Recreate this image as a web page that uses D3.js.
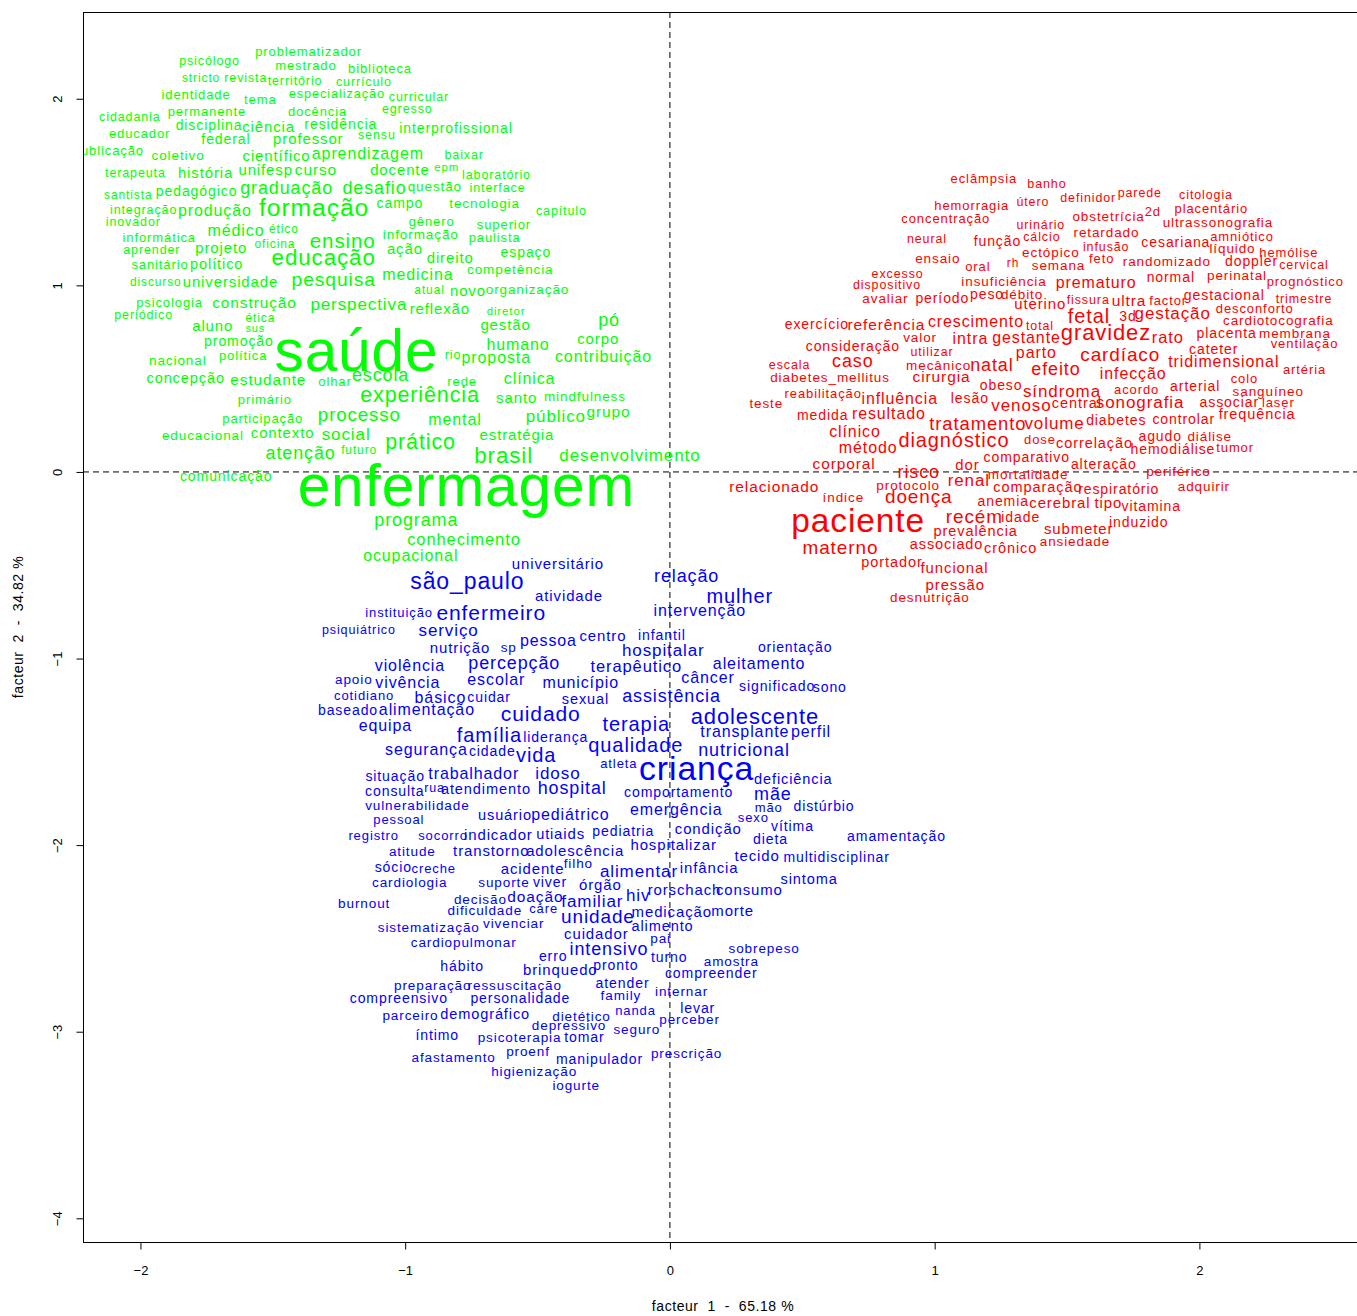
<!DOCTYPE html>
<html>
<head>
<meta charset="utf-8">
<script src="https://cdn.jsdelivr.net/npm/d3@7"></script>
<style>
  body { margin: 0; background: #fff; }
  text { font-family: "Liberation Sans", Arial, Helvetica, sans-serif; }
</style>
</head>
<body>
<svg id="chart" width="1357" height="1316"></svg>
<script>
// Correspondence analysis word map: each word is placed at its coordinates
// on the first two factors; cex is the relative label size (word weight).
// Columns: [word, facteur 1, facteur 2, cex]

const class1Words = [
  ["problematizador", -1.365, 2.252, 1.0], ["psicólogo", -1.739, 2.199, 0.96], ["mestrado", -1.375, 2.177, 1.0],
  ["biblioteca", -1.095, 2.160, 1.0], ["stricto", -1.771, 2.110, 0.92], ["revista", -1.602, 2.110, 0.96],
  ["território", -1.416, 2.095, 0.96], ["currículo", -1.156, 2.088, 0.96], ["identidade", -1.790, 2.017, 1.0],
  ["tema", -1.547, 1.994, 1.0], ["especialização", -1.258, 2.024, 0.98], ["curricular", -0.948, 2.008, 0.96],
  ["egresso", -0.992, 1.945, 0.96], ["cidadania", -2.040, 1.901, 0.96], ["permanente", -1.749, 1.931, 1.0],
  ["docência", -1.331, 1.931, 1.0], ["interprofissional", -0.808, 1.837, 1.08], ["disciplina", -1.741, 1.854, 1.08],
  ["ciência", -1.516, 1.847, 1.15], ["residência", -1.243, 1.860, 1.08], ["sensu", -1.107, 1.802, 0.96],
  ["educador", -2.003, 1.810, 1.0], ["federal", -1.677, 1.779, 1.08], ["professor", -1.366, 1.783, 1.15],
  ["publicação", -2.121, 1.722, 1.0], ["coletivo", -1.858, 1.693, 1.04], ["científico", -1.486, 1.693, 1.15],
  ["aprendizagem", -1.141, 1.703, 1.23], ["baixar", -0.777, 1.699, 0.96], ["terapeuta", -2.019, 1.601, 0.96],
  ["história", -1.754, 1.597, 1.15], ["unifesp", -1.527, 1.613, 1.15], ["curso", -1.337, 1.615, 1.19],
  ["docente", -1.020, 1.618, 1.15], ["epm", -0.843, 1.631, 0.88], ["laboratório", -0.655, 1.588, 0.96],
  ["santista", -2.046, 1.484, 0.92], ["pedagógico", -1.788, 1.499, 1.08], ["graduação", -1.448, 1.520, 1.38],
  ["desafio", -1.116, 1.520, 1.38], ["questão", -0.888, 1.529, 1.04], ["interface", -0.651, 1.520, 0.96],
  ["integração", -1.988, 1.404, 0.96], ["produção", -1.719, 1.395, 1.23], ["formação", -1.344, 1.413, 1.9],
  ["campo", -1.020, 1.435, 1.08], ["tecnologia", -0.700, 1.435, 1.04], ["capítulo", -0.410, 1.399, 0.96],
  ["inovador", -2.027, 1.336, 0.96], ["gênero", -0.900, 1.341, 1.0], ["superior", -0.627, 1.324, 1.0],
  ["médico", -1.639, 1.288, 1.23], ["ético", -1.458, 1.301, 0.92], ["informática", -1.929, 1.252, 1.0],
  ["informação", -0.941, 1.270, 1.04], ["paulista", -0.662, 1.252, 1.0], ["ensino", -1.236, 1.234, 1.58],
  ["aprender", -1.957, 1.190, 0.96], ["projeto", -1.695, 1.195, 1.15], ["oficina", -1.492, 1.222, 0.92],
  ["ação", -1.001, 1.190, 1.15], ["direito", -0.830, 1.145, 1.15], ["espaço", -0.544, 1.177, 1.08],
  ["educação", -1.308, 1.145, 1.72], ["sanitário", -1.926, 1.109, 1.0], ["político", -1.712, 1.109, 1.12],
  ["discurso", -1.942, 1.017, 0.92], ["universidade", -1.660, 1.017, 1.15], ["pesquisa", -1.270, 1.025, 1.48],
  ["medicina", -0.952, 1.052, 1.23], ["competência", -0.603, 1.083, 1.04], ["atual", -0.908, 0.972, 0.92],
  ["novo", -0.763, 0.966, 1.15], ["organização", -0.538, 0.975, 1.04], ["psicologia", -1.890, 0.907, 1.0],
  ["construção", -1.569, 0.904, 1.19], ["perspectiva", -1.175, 0.895, 1.31], ["periódico", -1.988, 0.838, 0.96],
  ["ética", -1.547, 0.824, 0.92], ["sus", -1.566, 0.770, 0.85], ["aluno", -1.727, 0.779, 1.15],
  ["reflexão", -0.869, 0.868, 1.15], ["diretor", -0.619, 0.859, 0.88], ["gestão", -0.621, 0.784, 1.15],
  ["pó", -0.230, 0.809, 1.38], ["promoção", -1.628, 0.698, 1.08], ["saúde", -1.184, 0.635, 4.5],
  ["humano", -0.574, 0.681, 1.23], ["corpo", -0.271, 0.711, 1.15], ["política", -1.612, 0.622, 1.0],
  ["nacional", -1.859, 0.596, 1.04], ["rio", -0.819, 0.623, 0.96], ["proposta", -0.656, 0.609, 1.23],
  ["contribuição", -0.251, 0.613, 1.23], ["concepção", -1.829, 0.498, 1.12], ["estudante", -1.517, 0.489, 1.19],
  ["olhar", -1.265, 0.484, 1.0], ["escola", -1.093, 0.514, 1.38], ["rede", -0.785, 0.484, 1.0],
  ["clínica", -0.530, 0.497, 1.23], ["experiência", -0.944, 0.407, 1.65], ["primário", -1.530, 0.386, 1.0],
  ["santo", -0.579, 0.395, 1.15], ["mindfulness", -0.321, 0.404, 1.04], ["participação", -1.538, 0.282, 1.0],
  ["processo", -1.173, 0.302, 1.44], ["mental", -0.812, 0.275, 1.23], ["público", -0.431, 0.296, 1.31],
  ["grupo", -0.232, 0.318, 1.19], ["educacional", -1.764, 0.193, 1.04], ["contexto", -1.463, 0.204, 1.15],
  ["social", -1.223, 0.198, 1.31], ["estratégia", -0.578, 0.195, 1.15], ["prático", -0.942, 0.157, 1.65],
  ["atenção", -1.395, 0.100, 1.38], ["futuro", -1.174, 0.118, 0.92], ["brasil", -0.628, 0.082, 1.72],
  ["desenvolvimento", -0.151, 0.086, 1.31], ["comunicação", -1.676, -0.028, 1.08], ["enfermagem", -0.769, -0.086, 4.5],
  ["programa", -0.958, -0.263, 1.38], ["conhecimento", -0.778, -0.364, 1.27], ["ocupacional", -0.979, -0.450, 1.23]
];

const class2Words = [
  ["eclâmpsia", 1.186, 1.570, 1.0], ["banho", 1.424, 1.543, 0.96], ["hemorragia", 1.140, 1.425, 1.0],
  ["útero", 1.371, 1.447, 0.96], ["definidor", 1.580, 1.467, 0.96], ["parede", 1.775, 1.494, 0.96],
  ["citologia", 2.025, 1.484, 0.96], ["concentração", 1.042, 1.354, 1.0], ["urinário", 1.401, 1.324, 0.96],
  ["obstetrícia", 1.657, 1.368, 1.04], ["2d", 1.824, 1.390, 1.0], ["placentário", 2.045, 1.408, 1.0],
  ["ultrassonografia", 2.070, 1.336, 1.04], ["neural", 0.971, 1.249, 0.96], ["função", 1.237, 1.234, 1.08],
  ["cálcio", 1.405, 1.259, 0.96], ["retardado", 1.649, 1.279, 1.04], ["amniótico", 2.161, 1.256, 1.0],
  ["infusão", 1.648, 1.204, 0.96], ["cesariana", 1.911, 1.226, 1.08], ["líquido", 2.125, 1.195, 1.04],
  ["hemólise", 2.338, 1.175, 1.0], ["ectópico", 1.439, 1.175, 1.04], ["ensaio", 1.012, 1.140, 1.04],
  ["oral", 1.163, 1.097, 1.0], ["rh", 1.296, 1.115, 0.92], ["semana", 1.468, 1.104, 1.04],
  ["feto", 1.631, 1.140, 1.0], ["randomizado", 1.877, 1.127, 1.04], ["doppler", 2.197, 1.127, 1.08],
  ["cervical", 2.395, 1.106, 0.96], ["excesso", 0.860, 1.061, 0.96], ["dispositivo", 0.820, 0.998, 0.96],
  ["insuficiência", 1.262, 1.020, 1.04], ["prematuro", 1.610, 1.014, 1.23], ["normal", 1.892, 1.038, 1.08],
  ["perinatal", 2.142, 1.050, 1.04], ["prognóstico", 2.400, 1.017, 1.0], ["avaliar", 0.814, 0.926, 1.04],
  ["período", 1.029, 0.926, 1.08], ["peso", 1.198, 0.949, 1.08], ["débito", 1.330, 0.949, 1.04],
  ["uterino", 1.399, 0.895, 1.15], ["fissura", 1.580, 0.922, 0.96], ["ultra", 1.734, 0.916, 1.19],
  ["factor", 1.882, 0.913, 1.0], ["gestacional", 2.094, 0.943, 1.08], ["trimestre", 2.395, 0.927, 0.96],
  ["exercício", 0.555, 0.788, 1.08], ["referência", 0.818, 0.788, 1.19], ["crescimento", 1.156, 0.805, 1.23],
  ["total", 1.398, 0.779, 0.96], ["fetal", 1.583, 0.832, 1.54], ["3d", 1.730, 0.832, 1.08],
  ["gestação", 1.899, 0.845, 1.31], ["desconforto", 2.209, 0.872, 1.0], ["cardiotocografia", 2.298, 0.811, 1.04],
  ["consideração", 0.691, 0.671, 1.08], ["valor", 0.945, 0.717, 1.04], ["intra", 1.135, 0.711, 1.23],
  ["gestante", 1.347, 0.717, 1.23], ["gravidez", 1.647, 0.743, 1.69], ["rato", 1.881, 0.720, 1.27],
  ["placenta", 2.103, 0.740, 1.08], ["membrana", 2.361, 0.740, 1.04], ["utilizar", 0.990, 0.639, 0.96],
  ["parto", 1.384, 0.638, 1.23], ["cardíaco", 1.701, 0.627, 1.46], ["cateter", 2.054, 0.654, 1.08],
  ["ventilação", 2.397, 0.686, 1.0], ["escala", 0.452, 0.570, 0.96], ["caso", 0.691, 0.591, 1.38],
  ["mecânico", 1.015, 0.568, 1.04], ["natal", 1.216, 0.568, 1.38], ["efeito", 1.458, 0.547, 1.38],
  ["tridimensional", 2.092, 0.586, 1.23], ["artéria", 2.397, 0.547, 1.0], ["diabetes_mellitus", 0.605, 0.502, 1.04],
  ["cirurgia", 1.026, 0.507, 1.19], ["infecção", 1.750, 0.525, 1.23], ["colo", 2.170, 0.497, 1.0],
  ["obeso", 1.251, 0.461, 1.08], ["síndroma", 1.481, 0.430, 1.31], ["acordo", 1.763, 0.439, 1.0],
  ["arterial", 1.984, 0.454, 1.08], ["sanguíneo", 2.260, 0.430, 1.04], ["reabilitação", 0.579, 0.418, 1.0],
  ["teste", 0.364, 0.364, 1.04], ["influência", 0.868, 0.390, 1.23], ["lesão", 1.133, 0.391, 1.08],
  ["venoso", 1.328, 0.356, 1.31], ["central", 1.537, 0.364, 1.12], ["sonografia", 1.776, 0.371, 1.31],
  ["associar", 2.113, 0.368, 1.08], ["laser", 2.298, 0.368, 1.0], ["medida", 0.577, 0.302, 1.08],
  ["resultado", 0.827, 0.309, 1.23], ["tratamento", 1.163, 0.252, 1.42], ["volume", 1.453, 0.257, 1.31],
  ["diabetes", 1.686, 0.273, 1.08], ["controlar", 1.941, 0.279, 1.08], ["frequência", 2.218, 0.305, 1.12],
  ["clínico", 0.699, 0.211, 1.23], ["diagnóstico", 1.073, 0.168, 1.54], ["dose", 1.398, 0.171, 1.0],
  ["correlação", 1.604, 0.154, 1.12], ["agudo", 1.852, 0.189, 1.08], ["diálise", 2.039, 0.186, 1.04],
  ["hemodiálise", 1.900, 0.118, 1.08], ["tumor", 2.135, 0.127, 1.0], ["método", 0.749, 0.127, 1.23],
  ["comparativo", 1.348, 0.077, 1.08], ["alteração", 1.639, 0.038, 1.08], ["corporal", 0.658, 0.038, 1.19],
  ["risco", 0.940, -0.004, 1.38], ["dor", 1.124, 0.032, 1.15], ["mortalidade", 1.353, -0.016, 1.04],
  ["periférico", 1.921, 0.002, 1.04], ["relacionado", 0.394, -0.082, 1.19], ["protocolo", 0.900, -0.075, 1.04],
  ["renal", 1.129, -0.047, 1.31], ["comparação", 1.390, -0.082, 1.12], ["respiratório", 1.695, -0.093, 1.08],
  ["adquirir", 2.017, -0.082, 1.04], ["índice", 0.655, -0.141, 1.04], ["doença", 0.940, -0.136, 1.46],
  ["anemia", 1.259, -0.159, 1.08], ["cerebral", 1.473, -0.171, 1.15], ["tipo", 1.656, -0.171, 1.15],
  ["vitamina", 1.818, -0.186, 1.08], ["paciente", 0.711, -0.266, 2.58], ["recém", 1.150, -0.245, 1.46],
  ["idade", 1.325, -0.248, 1.08], ["prevalência", 1.155, -0.320, 1.12], ["materno", 0.644, -0.409, 1.46],
  ["associado", 1.045, -0.391, 1.12], ["crônico", 1.287, -0.409, 1.12], ["submeter", 1.544, -0.307, 1.15],
  ["induzido", 1.771, -0.272, 1.08], ["ansiedade", 1.530, -0.377, 1.04], ["portador", 0.839, -0.486, 1.12],
  ["funcional", 1.075, -0.516, 1.15], ["pressão", 1.078, -0.606, 1.15], ["desnutrição", 0.982, -0.677, 1.04]
];

const class3Words = [
  ["universitário", -0.423, -0.498, 1.15], ["são_paulo", -0.765, -0.588, 1.77], ["atividade", -0.381, -0.668, 1.15],
  ["instituição", -1.023, -0.754, 1.0], ["enfermeiro", -0.675, -0.757, 1.62], ["psiquiátrico", -1.175, -0.847, 0.96],
  ["serviço", -0.836, -0.850, 1.31], ["nutrição", -0.793, -0.945, 1.15], ["sp", -0.609, -0.945, 1.04],
  ["pessoa", -0.459, -0.909, 1.23], ["centro", -0.253, -0.883, 1.15], ["violência", -0.982, -1.043, 1.23],
  ["percepção", -0.588, -1.025, 1.38], ["apoio", -1.194, -1.115, 1.04], ["vivência", -0.990, -1.132, 1.23],
  ["escolar", -0.656, -1.115, 1.23], ["município", -0.337, -1.132, 1.23], ["cotidiano", -1.155, -1.204, 1.0],
  ["básico", -0.867, -1.210, 1.23], ["cuidar", -0.683, -1.210, 1.08], ["sexual", -0.319, -1.218, 1.12],
  ["baseado", -1.216, -1.279, 1.08], ["alimentação", -0.918, -1.275, 1.23], ["cuidado", -0.488, -1.302, 1.62],
  ["equipa", -1.075, -1.365, 1.23], ["família", -0.682, -1.413, 1.54], ["liderança", -0.431, -1.424, 1.08],
  ["segurança", -0.920, -1.490, 1.23], ["cidade", -0.671, -1.499, 1.08], ["vida", -0.505, -1.522, 1.54],
  ["situação", -1.038, -1.633, 1.08], ["trabalhador", -0.741, -1.618, 1.23], ["idoso", -0.423, -1.618, 1.31],
  ["consulta", -1.039, -1.713, 1.08], ["rua", -0.889, -1.695, 0.96], ["atendimento", -0.695, -1.704, 1.12],
  ["hospital", -0.369, -1.695, 1.38], ["vulnerabilidade", -0.954, -1.790, 1.04], ["pessoal", -1.024, -1.865, 1.0],
  ["usuário", -0.623, -1.843, 1.12], ["pediátrico", -0.376, -1.838, 1.23], ["relação", 0.063, -0.561, 1.38],
  ["mulher", 0.264, -0.668, 1.54], ["intervenção", 0.113, -0.749, 1.23], ["infantil", -0.030, -0.879, 1.08],
  ["hospitalar", -0.025, -0.958, 1.31], ["orientação", 0.473, -0.942, 1.08], ["terapêutico", -0.127, -1.043, 1.27],
  ["aleitamento", 0.337, -1.029, 1.23], ["câncer", 0.144, -1.106, 1.23], ["significado", 0.405, -1.151, 1.08],
  ["sono", 0.604, -1.159, 1.08], ["assistência", 0.006, -1.204, 1.38], ["adolescente", 0.321, -1.315, 1.69],
  ["terapia", -0.127, -1.356, 1.54], ["transplante", 0.283, -1.397, 1.23], ["perfil", 0.533, -1.397, 1.23],
  ["qualidade", -0.129, -1.468, 1.54], ["nutricional", 0.280, -1.495, 1.38], ["atleta", -0.193, -1.566, 1.0],
  ["criança", 0.101, -1.597, 2.6], ["deficiência", 0.466, -1.647, 1.12], ["comportamento", 0.033, -1.722, 1.08],
  ["mãe", 0.389, -1.731, 1.38], ["emergência", 0.024, -1.811, 1.23], ["mão", 0.373, -1.799, 1.0],
  ["distúrbio", 0.582, -1.794, 1.08], ["sexo", 0.315, -1.856, 1.0], ["condição", 0.145, -1.919, 1.15],
  ["vítima", 0.463, -1.901, 1.08], ["dieta", 0.380, -1.972, 1.08], ["amamentação", 0.856, -1.958, 1.08],
  ["pediatria", -0.176, -1.928, 1.08], ["hospitalizar", 0.014, -2.004, 1.15], ["tecido", 0.329, -2.062, 1.15],
  ["multidisciplinar", 0.630, -2.070, 1.08], ["alimentar", -0.117, -2.145, 1.31], ["infância", 0.148, -2.124, 1.15],
  ["sintoma", 0.526, -2.186, 1.12], ["hiv", -0.120, -2.272, 1.31], ["rorschach", 0.055, -2.245, 1.15],
  ["consumo", 0.300, -2.245, 1.15], ["medicação", 0.007, -2.362, 1.15], ["morte", 0.237, -2.356, 1.15],
  ["alimento", -0.028, -2.437, 1.12], ["pai", -0.035, -2.504, 1.04], ["sobrepeso", 0.356, -2.556, 1.04],
  ["turno", -0.003, -2.606, 1.08], ["amostra", 0.232, -2.624, 1.04], ["compreender", 0.156, -2.690, 1.08],
  ["internar", 0.044, -2.788, 1.04], ["levar", 0.105, -2.878, 1.08], ["perceber", 0.074, -2.937, 1.04],
  ["prescrição", 0.063, -3.119, 1.04], ["registro", -1.119, -1.949, 1.0], ["socorro", -0.857, -1.949, 1.0],
  ["indicador", -0.648, -1.949, 1.15], ["uti", -0.471, -1.945, 1.12], ["aids", -0.379, -1.945, 1.15],
  ["atitude", -0.973, -2.035, 1.04], ["transtorno", -0.675, -2.035, 1.15], ["adolescência", -0.358, -2.035, 1.15],
  ["sócio", -1.045, -2.124, 1.08], ["creche", -0.892, -2.129, 1.0], ["acidente", -0.519, -2.133, 1.15],
  ["filho", -0.346, -2.102, 1.04], ["cardiologia", -0.983, -2.204, 1.04], ["suporte", -0.627, -2.204, 1.04],
  ["viver", -0.453, -2.201, 1.08], ["órgão", -0.263, -2.219, 1.15], ["burnout", -1.155, -2.315, 1.04],
  ["decisão", -0.716, -2.294, 1.04], ["doação", -0.508, -2.279, 1.19], ["familiar", -0.293, -2.303, 1.31],
  ["dificuldade", -0.699, -2.351, 1.04], ["care", -0.477, -2.344, 1.0], ["unidade", -0.272, -2.386, 1.46],
  ["sistematização", -0.911, -2.445, 1.04], ["vivenciar", -0.590, -2.422, 1.04], ["cuidador", -0.278, -2.481, 1.15],
  ["cardiopulmonar", -0.779, -2.526, 1.04], ["intensivo", -0.230, -2.558, 1.38], ["erro", -0.441, -2.601, 1.08],
  ["hábito", -0.785, -2.651, 1.08], ["brinquedo", -0.414, -2.673, 1.15], ["pronto", -0.204, -2.647, 1.08],
  ["preparação", -0.896, -2.753, 1.04], ["ressuscitação", -0.586, -2.753, 1.04], ["atender", -0.179, -2.744, 1.08],
  ["compreensivo", -1.024, -2.824, 1.08], ["personalidade", -0.565, -2.824, 1.08], ["family", -0.185, -2.808, 1.04],
  ["parceiro", -0.980, -2.914, 1.04], ["demográfico", -0.698, -2.910, 1.12], ["dietético", -0.334, -2.919, 1.04],
  ["nanda", -0.130, -2.887, 1.0], ["depressivo", -0.381, -2.969, 1.04], ["seguro", -0.125, -2.990, 1.04],
  ["íntimo", -0.879, -3.021, 1.08], ["psicoterapia", -0.568, -3.035, 1.04], ["tomar", -0.323, -3.035, 1.08],
  ["afastamento", -0.817, -3.139, 1.04], ["proenf", -0.536, -3.110, 1.04], ["manipulador", -0.266, -3.151, 1.08],
  ["higienização", -0.513, -3.214, 1.04], ["iogurte", -0.354, -3.289, 1.04]
];

const classColors = ["#00ff00", "#ff0000", "#0000ff"];
const xTicks = [-2, -1, 0, 1, 2];
const yTicks = [2, 1, 0, -1, -2, -3, -4];
const xTitle = "facteur  1  -  65.18 %";
const yTitle = "facteur  2  -  34.82 %";

// ---- layout ----
const svg = d3.select("#chart");
const plot = { left: 83, top: 12, right: 1363, bottom: 1242 };
const baseFont = 13;

const x = d3.scaleLinear().domain([-2.217, 2.618]).range([plot.left, plot.right]);
const y = d3.scaleLinear().domain([-4.127, 2.465]).range([plot.bottom, plot.top]);

svg.append("defs").append("clipPath").attr("id", "plot-clip")
  .append("rect")
  .attr("x", plot.left).attr("y", plot.top)
  .attr("width", plot.right - plot.left).attr("height", plot.bottom - plot.top);

// reference lines through the origin
const refs = svg.append("g").attr("clip-path", "url(#plot-clip)")
  .attr("stroke", "#000").attr("stroke-width", 1).attr("stroke-dasharray", "6,4").attr("fill", "none");
refs.append("line").attr("x1", x(0)).attr("x2", x(0)).attr("y1", plot.top).attr("y2", plot.bottom);
refs.append("line").attr("y1", y(0)).attr("y2", y(0)).attr("x1", plot.left).attr("x2", plot.right);

// words
const classes = [class1Words, class2Words, class3Words];
const wordLayer = svg.append("g").attr("clip-path", "url(#plot-clip)");
classes.forEach((words, k) => {
  wordLayer.append("g").attr("fill", classColors[k])
    .selectAll("text").data(words).join("text")
    .attr("x", d => x(d[1]))
    .attr("y", d => y(d[2]))
    .attr("dy", "0.3em")
    .attr("text-anchor", "middle")
    .attr("font-size", d => baseFont * d[3])
    .attr("letter-spacing", "0.9px")
    .text(d => d[0]);
});

// frame
svg.append("rect")
  .attr("x", plot.left + 0.5).attr("y", plot.top + 0.5)
  .attr("width", plot.right - plot.left).attr("height", plot.bottom - plot.top)
  .attr("fill", "none").attr("stroke", "#000").attr("stroke-width", 1);

// axes
const xAxis = svg.append("g").attr("transform", `translate(0,${plot.bottom + 0.5})`)
  .call(d3.axisBottom(x).tickValues(xTicks).tickSize(7).tickPadding(16).tickFormat(d3.format("d")));
xAxis.select(".domain").remove();
xAxis.selectAll("text").attr("font-size", 13).attr("fill", "#000")
  .attr("font-family", "'Liberation Sans', Arial, sans-serif");

const yAxis = svg.append("g").attr("transform", `translate(${plot.left + 0.5},0)`)
  .call(d3.axisLeft(y).tickValues(yTicks).tickSize(7).tickFormat(d3.format("d")));
yAxis.select(".domain").remove();
yAxis.selectAll(".tick text")
  .attr("x", null).attr("dy", null).attr("y", null)
  .attr("text-anchor", "middle")
  .attr("transform", "translate(-22,0) rotate(-90)")
  .attr("font-size", 13).attr("fill", "#000")
  .attr("font-family", "'Liberation Sans', Arial, sans-serif");

// axis titles
svg.append("text")
  .attr("x", (plot.left + plot.right) / 2).attr("y", 1311)
  .attr("text-anchor", "middle").attr("font-size", 14).attr("letter-spacing", "0.04em")
  .style("white-space", "pre")
  .text(xTitle);
svg.append("text")
  .attr("transform", `translate(23,${(plot.top + plot.bottom) / 2}) rotate(-90)`)
  .attr("text-anchor", "middle").attr("font-size", 14).attr("letter-spacing", "0.04em")
  .style("white-space", "pre")
  .text(yTitle);
</script>
</body>
</html>
